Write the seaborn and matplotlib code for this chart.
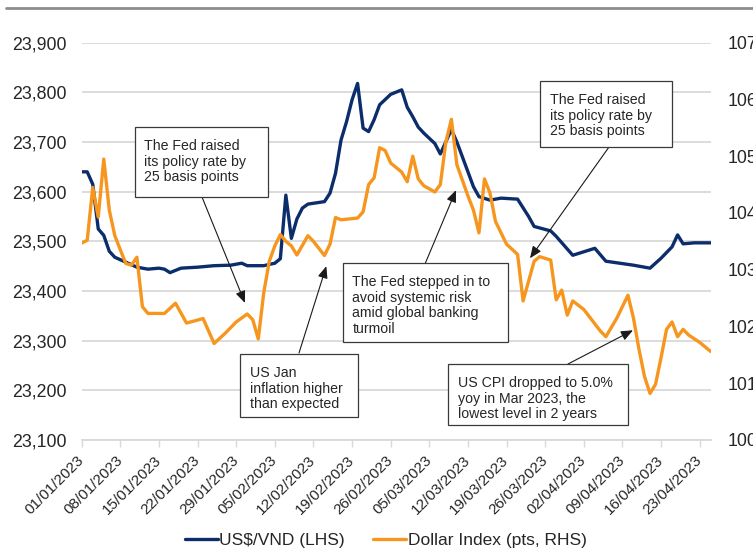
import matplotlib
matplotlib.use("Agg")
import matplotlib.pyplot as plt
import matplotlib.dates as mdates
from matplotlib.lines import Line2D
from matplotlib.patches import Rectangle
import pandas as pd
import seaborn as sns

# ---- US$/VND exchange rate (left axis) ----
vnd_dates = [
    "2023-01-01", "2023-01-02", "2023-01-03", "2023-01-04", "2023-01-05", "2023-01-06",
    "2023-01-07", "2023-01-09", "2023-01-11", "2023-01-13", "2023-01-15", "2023-01-16",
    "2023-01-17", "2023-01-19", "2023-01-22", "2023-01-25", "2023-01-28", "2023-01-30",
    "2023-01-31", "2023-02-03", "2023-02-05", "2023-02-06", "2023-02-07", "2023-02-08",
    "2023-02-09", "2023-02-10", "2023-02-11", "2023-02-14", "2023-02-15", "2023-02-16",
    "2023-02-17", "2023-02-18", "2023-02-19", "2023-02-20", "2023-02-21", "2023-02-22",
    "2023-02-23", "2023-02-24", "2023-02-26", "2023-02-28", "2023-03-01", "2023-03-02",
    "2023-03-03", "2023-03-04", "2023-03-06", "2023-03-07", "2023-03-09", "2023-03-10",
    "2023-03-12", "2023-03-13", "2023-03-14", "2023-03-16", "2023-03-18", "2023-03-21",
    "2023-03-23", "2023-03-24", "2023-03-27", "2023-03-28", "2023-03-31", "2023-04-02",
    "2023-04-04", "2023-04-06", "2023-04-11", "2023-04-14", "2023-04-16", "2023-04-18",
    "2023-04-19", "2023-04-20", "2023-04-22", "2023-04-25",
]
vnd_values = [
    23640, 23640, 23615, 23525, 23512, 23480,
    23468, 23458, 23448, 23444, 23446, 23444,
    23437, 23446, 23448, 23451, 23452, 23456,
    23451, 23451, 23456, 23465, 23593, 23506,
    23545, 23567, 23575, 23580, 23597, 23637,
    23704, 23741, 23785, 23818, 23728, 23721,
    23745, 23775, 23796, 23805, 23770, 23751,
    23730, 23718, 23697, 23676, 23725, 23700,
    23640, 23610, 23590, 23583, 23587, 23585,
    23550, 23530, 23521, 23510, 23472, 23479,
    23486, 23460, 23452, 23446, 23466, 23489,
    23513, 23495, 23497, 23497,
]

# ---- Dollar Index (right axis) ----
dxy_dates = [
    "2023-01-01", "2023-01-02", "2023-01-03", "2023-01-04", "2023-01-05", "2023-01-06",
    "2023-01-07", "2023-01-08", "2023-01-09", "2023-01-10", "2023-01-11", "2023-01-12",
    "2023-01-13", "2023-01-16", "2023-01-18", "2023-01-20", "2023-01-23", "2023-01-25",
    "2023-01-27", "2023-01-29", "2023-01-31", "2023-02-01", "2023-02-02", "2023-02-03",
    "2023-02-04", "2023-02-05", "2023-02-06", "2023-02-07", "2023-02-08", "2023-02-09",
    "2023-02-11", "2023-02-12", "2023-02-14", "2023-02-15", "2023-02-16", "2023-02-17",
    "2023-02-20", "2023-02-21", "2023-02-22", "2023-02-23", "2023-02-24", "2023-02-25",
    "2023-02-26", "2023-02-28", "2023-03-01", "2023-03-02", "2023-03-03", "2023-03-04",
    "2023-03-06", "2023-03-07", "2023-03-08", "2023-03-09", "2023-03-10", "2023-03-12",
    "2023-03-13", "2023-03-14", "2023-03-15", "2023-03-16", "2023-03-17", "2023-03-19",
    "2023-03-21", "2023-03-22", "2023-03-23", "2023-03-24", "2023-03-25", "2023-03-27",
    "2023-03-28", "2023-03-29", "2023-03-30", "2023-03-31", "2023-04-02", "2023-04-05",
    "2023-04-06", "2023-04-08", "2023-04-10", "2023-04-11", "2023-04-12", "2023-04-13",
    "2023-04-14", "2023-04-15", "2023-04-16", "2023-04-17", "2023-04-18", "2023-04-19",
    "2023-04-20", "2023-04-21", "2023-04-23", "2023-04-25",
]
dxy_values = [
    103.47, 103.52, 104.45, 103.93, 104.95, 104.05,
    103.60, 103.35, 103.11, 103.08, 103.22, 102.35,
    102.23, 102.23, 102.41, 102.06, 102.14, 101.70,
    101.88, 102.08, 102.22, 102.12, 101.78, 102.60,
    103.15, 103.42, 103.62, 103.50, 103.42, 103.26,
    103.60, 103.50, 103.25, 103.45, 103.92, 103.88,
    103.91, 104.02, 104.50, 104.62, 105.15, 105.10,
    104.88, 104.72, 104.55, 105.00, 104.60, 104.48,
    104.37, 104.50, 105.25, 105.65, 104.85, 104.30,
    104.05, 103.65, 104.60, 104.35, 103.85, 103.45,
    103.27, 102.45, 102.80, 103.15, 103.23, 103.17,
    102.47, 102.64, 102.20, 102.45, 102.30, 101.92,
    101.82, 102.15, 102.55, 102.15, 101.60, 101.12,
    100.82, 100.98, 101.45, 101.95, 102.08, 101.82,
    101.95, 101.85, 101.72, 101.56,
]

# axis settings
left_ticks = [23100, 23200, 23300, 23400, 23500, 23600, 23700, 23800, 23900]
right_ticks = [100, 101, 102, 103, 104, 105, 106, 107]
week_ticks = pd.date_range("2023-01-01", "2023-04-23", freq="7D")

NAVY = "#0c2d6b"
ORANGE = "#f7961e"
GRID = "#d9d9d9"
TEXT = "#262626"

sns.set_theme(style="white")
plt.rcParams["font.family"] = ["Liberation Sans", "DejaVu Sans"]

W, H = 753, 551
fig = plt.figure(figsize=(W / 100, H / 100), dpi=100)
ax = fig.add_axes([81.7 / W, 1 - 440 / H, (710.7 - 81.7) / W, (440 - 42.7) / H])
ax2 = ax.twinx()

vnd = pd.DataFrame({"date": pd.to_datetime(vnd_dates), "value": vnd_values})
dxy = pd.DataFrame({"date": pd.to_datetime(dxy_dates), "value": dxy_values})

sns.lineplot(data=vnd, x="date", y="value", ax=ax, color=NAVY, lw=2.4,
             label="US$/VND (LHS)", legend=False, zorder=3)
sns.lineplot(data=dxy, x="date", y="value", ax=ax2, color=ORANGE, lw=2.4,
             label="Dollar Index (pts, RHS)", legend=False, zorder=3)

x0, x1 = pd.Timestamp("2023-01-01"), pd.Timestamp("2023-04-25")
ax.set_xlim(x0, x1)
ax.set_ylim(23100, 23900)
ax2.set_ylim(100, 107)

ax.set_yticks(left_ticks)
ax.set_yticklabels([f"{v:,}" for v in left_ticks])
ax2.set_yticks(right_ticks)
ax2.set_yticklabels([str(v) for v in right_ticks])

ax.set_xticks(week_ticks)
ax.xaxis.set_major_formatter(mdates.DateFormatter("%d/%m/%Y"))
for lab in ax.get_xticklabels():
    lab.set_rotation(45)
    lab.set_ha("right")
    lab.set_rotation_mode("anchor")
    lab.set_va("center")

for a in (ax, ax2):
    a.set_xlabel("")
    a.set_ylabel("")
    for s in ("top", "left", "right", "bottom"):
        a.spines[s].set_visible(False)

ax.yaxis.grid(True, color=GRID, lw=1.3)
ax.set_axisbelow(True)
ax.spines["bottom"].set_visible(True)
ax.spines["bottom"].set_color(GRID)
ax.spines["bottom"].set_linewidth(1.3)

ax.tick_params(axis="y", length=0, pad=10.6, labelsize=12.8, labelcolor=TEXT)
ax2.tick_params(axis="y", length=0, pad=12.5, labelsize=12.8, labelcolor=TEXT)
ax.tick_params(axis="x", length=5, width=1, color=GRID, pad=8, labelsize=11,
               labelcolor=TEXT, bottom=True)

# thin rule along the top of the figure
fig.add_artist(Line2D([6 / W, 1], [1 - 7.5 / H] * 2, color="#8c8c8c", lw=2))

# ---- annotations: box (left, top, right, bottom in px from top-left),
#      text, arrow tail (px) and arrow target (date, US$/VND level) ----
notes = [
    ((135, 127, 268, 197), "The Fed raised\nits policy rate by\n25 basis points",
     (202, 197), ("2023-01-30 14:00", 23376)),
    ((240, 354, 358, 417), "US Jan\ninflation higher\nthan expected",
     (299, 353), ("2023-02-14 08:00", 23450)),
    ((343, 263, 508, 342), "The Fed stepped in to\navoid systemic risk\namid global banking\nturmoil",
     (425, 264), ("2023-03-09 20:00", 23603)),
    ((540, 81, 672, 147), "The Fed raised\nits policy rate by\n25 basis points",
     (609, 147), ("2023-03-23 06:00", 23466)),
    ((448, 364, 628, 425), "US CPI dropped to 5.0%\nyoy in Mar 2023, the\nlowest level in 2 years",
     (568, 364), ("2023-04-10 22:00", 23321)),
]
for (l, t, r, b), txt, (tx, ty), (tdate, tval) in notes:
    fig.add_artist(Rectangle((l / W, 1 - b / H), (r - l) / W, (b - t) / H,
                             transform=fig.transFigure, facecolor="white",
                             edgecolor="#3a3a3a", lw=0.9, zorder=5))
    fig.text((l + 9.5) / W, 1 - (t + 12) / H, txt, ha="left", va="top",
             fontsize=10.2, color=TEXT, linespacing=1.15, zorder=6)
    ax2.annotate("", xy=(mdates.date2num(pd.Timestamp(tdate)),
                         ax2.transData.inverted().transform(
                             ax.transData.transform((0, tval)))[1]),
                 xycoords="data", xytext=(tx, H - ty), textcoords="figure pixels",
                 arrowprops=dict(arrowstyle="-|>,head_length=0.6,head_width=0.25",
                                 color="#1a1a1a", lw=0.8, shrinkA=0, shrinkB=0),
                 zorder=7)

handles = [Line2D([], [], color=NAVY, lw=2.4), Line2D([], [], color=ORANGE, lw=2.4)]
fig.legend(handles, ["US$/VND (LHS)", "Dollar Index (pts, RHS)"],
           loc="center", bbox_to_anchor=(0.512, 1 - 540 / H), ncol=2, frameon=False,
           fontsize=12.5, handlelength=1.9, handletextpad=0.1, columnspacing=1.6,
           labelcolor=TEXT)

fig.savefig("out.png", dpi=100)
